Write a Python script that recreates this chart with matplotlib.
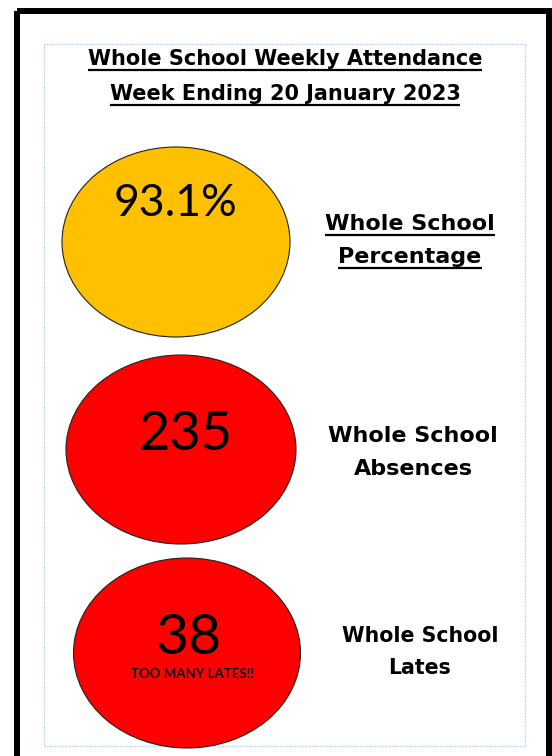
import matplotlib
matplotlib.use("Agg")
import matplotlib.pyplot as plt
from matplotlib.patches import Ellipse, Rectangle

# chart content
title_lines = ["Whole School Weekly Attendance", "Week Ending 20 January 2023"]
metric_values = ["93.1%", "235", "38"]
metric_notes = ["", "", "TOO MANY LATES!!"]
metric_labels = [["Whole School", "Percentage"],
                 ["Whole School", "Absences"],
                 ["Whole School", "Lates"]]
metric_colors = ["#FFC000", "#FF0000", "#FF0000"]
label_underlined = [True, False, False]

# layout (pixel coordinates, y pointing down)
W, H = 552, 756
ellipse_centers = [(176, 242), (181, 449.5), (187, 653)]
ellipse_sizes = [(228, 190), (230, 189), (227, 190)]
value_pos = [(175, 216), (186, 450), (189, 654)]
value_sizes = [32, 39, 41]
note_pos = (193, 678)
label_x = [410, 413, 420]
label_baselines = [(230, 263), (442, 475), (642, 674)]
label_sizes = [16, 16, 14.8]
title_baselines = [65, 100]

LABEL_FONT = "DejaVu Sans"
VALUE_FONT = "Lato"

fig = plt.figure(figsize=(W / 100, H / 100), dpi=100)
ax = fig.add_axes([0, 0, 1, 1])
ax.set_xlim(0, W)
ax.set_ylim(H, 0)
ax.axis("off")

# outer black frame and dotted blue page box
ax.add_patch(Rectangle((16.5, 10.5), 532, 780, fill=False, edgecolor="black", linewidth=4.3))
ax.add_patch(Rectangle((44, 44), 481, 702, fill=False, edgecolor="#A9CBEF",
                       linewidth=0.9, linestyle=(0, (1, 1))))

renderer = fig.canvas.get_renderer()


def underline(txt, y, lw=1.6):
    bb = txt.get_window_extent(renderer=renderer)
    inv = ax.transData.inverted()
    (x0, _), (x1, _) = inv.transform([(bb.x0, bb.y0), (bb.x1, bb.y0)])
    ax.plot([x0, x1], [y, y], color="black", linewidth=lw, solid_capstyle="butt")


# title
for line, yb in zip(title_lines, title_baselines):
    t = ax.text(285, yb, line, ha="center", va="baseline", fontsize=15,
                fontweight="bold", family=LABEL_FONT)
    underline(t, yb + 4.5)

# ellipses with values
for i in range(len(metric_values)):
    cx, cy = ellipse_centers[i]
    w, h = ellipse_sizes[i]
    ax.add_patch(Ellipse((cx, cy), w, h, facecolor=metric_colors[i],
                         edgecolor="#222222", linewidth=0.8))
    vx, vy = value_pos[i]
    ax.text(vx, vy, metric_values[i], ha="center", va="baseline",
            fontsize=value_sizes[i], family=VALUE_FONT, color="black")
    if metric_notes[i]:
        ax.text(note_pos[0], note_pos[1], metric_notes[i], ha="center", va="baseline",
                fontsize=9.5, fontweight="bold", family=VALUE_FONT, color="#111111")

    for line, yb in zip(metric_labels[i], label_baselines[i]):
        t = ax.text(label_x[i], yb, line, ha="center", va="baseline",
                    fontsize=label_sizes[i], fontweight="bold", family=LABEL_FONT)
        if label_underlined[i]:
            underline(t, yb + 5)

fig.savefig("out.png", dpi=100)
